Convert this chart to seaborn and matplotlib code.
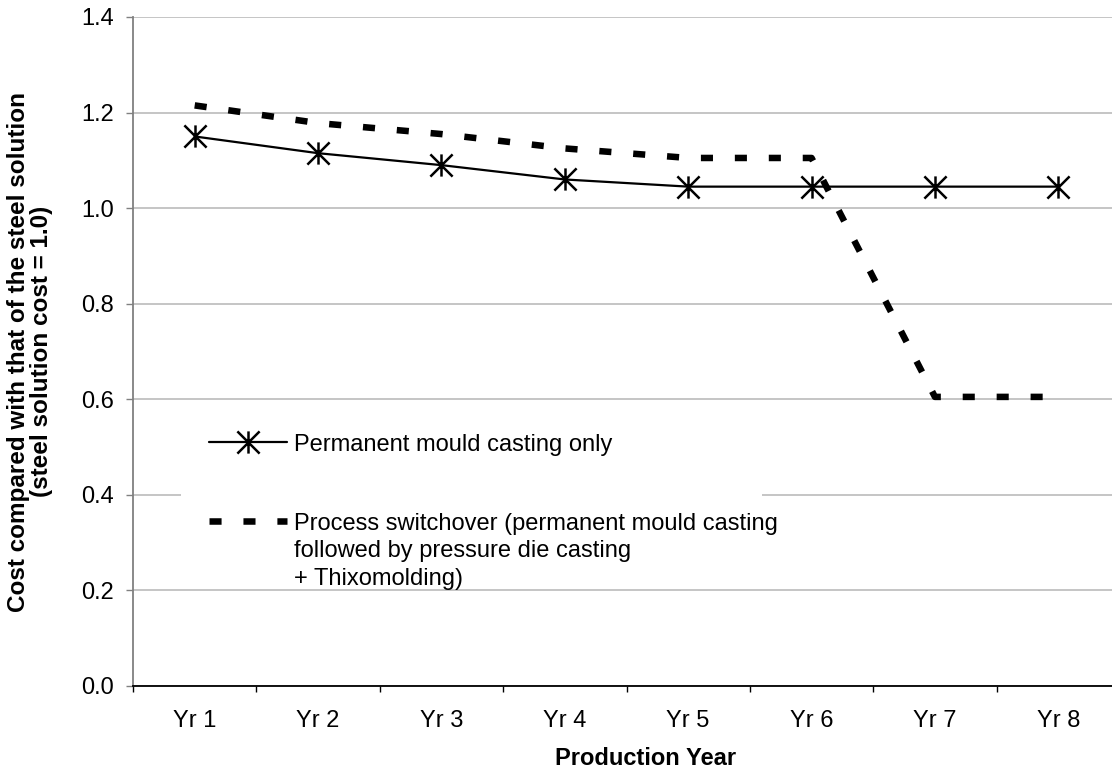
import matplotlib
matplotlib.use("Agg")
import matplotlib.pyplot as plt
from matplotlib.path import Path
from matplotlib.patches import Rectangle
import matplotlib.transforms as mtransforms
import pandas as pd
import seaborn as sns

# ---- data -------------------------------------------------------------
years = ["Yr 1", "Yr 2", "Yr 3", "Yr 4", "Yr 5", "Yr 6", "Yr 7", "Yr 8"]
permanent_mould = [1.15, 1.115, 1.09, 1.06, 1.045, 1.045, 1.045, 1.045]
switchover = [1.215, 1.178, 1.155, 1.125, 1.105, 1.105, 0.605, 0.605]
label_permanent = "Permanent mould casting only"
label_switch = ("Process switchover (permanent mould casting\n"
                "followed by pressure die casting\n"
                "+ Thixomolding)")
y_ticks = [0.0, 0.2, 0.4, 0.6, 0.8, 1.0, 1.2, 1.4]

df = pd.DataFrame({"year": years,
                   "permanent": permanent_mould,
                   "switch": switchover})

# ---- style ------------------------------------------------------------
sns.set_theme(style="white")
plt.rcParams["font.family"] = ["Liberation Sans", "DejaVu Sans"]
plt.rcParams["font.size"] = 17
plt.rcParams["text.color"] = "black"
plt.rcParams["axes.labelcolor"] = "black"

W, H = 1112, 776
fig = plt.figure(figsize=(W / 100, H / 100), dpi=100)
fig.patch.set_facecolor("white")

# plot area in pixels: left 133, right 1120 (runs past the canvas), top 17, bottom 686
left, right, top, bottom = 133, 1120, 17, 686
ax = fig.add_axes([left / W, (H - bottom) / H, (right - left) / W, (bottom - top) / H])
ax.set_facecolor("white")

# asterisk marker: vertical bar plus an X
star = Path([(0, -1), (0, 1), (-1, -1), (1, 1), (-1, 1), (1, -1)],
            [Path.MOVETO, Path.LINETO, Path.MOVETO, Path.LINETO,
             Path.MOVETO, Path.LINETO])

sns.lineplot(data=df, x="year", y="permanent", ax=ax, color="black",
             linewidth=1.6, marker=star, markersize=16,
             markeredgewidth=1.8, markeredgecolor="black",
             markerfacecolor="none", label=label_permanent, zorder=4)
sns.lineplot(data=df, x="year", y="switch", ax=ax, color="black",
             linewidth=4.7, linestyle=(0, (1.85, 3.35)),
             dash_capstyle="butt", label=label_switch, zorder=3)

# ---- axes ---------------------------------------------------------------
ax.set_xlim(-0.5, len(years) - 0.5)
ax.set_ylim(0, 1.4)
ax.set_yticks(y_ticks)
ax.set_yticklabels([f"{v:.1f}" for v in y_ticks])
ax.set_xticks(range(len(years)))
ax.set_xticklabels(years)
ax.set_xticks([i - 0.5 for i in range(len(years) + 1)], minor=True)

ax.yaxis.grid(True, color="#c0c0c0", linewidth=1.3)
ax.xaxis.grid(False)
ax.set_axisbelow(True)

for side in ("top", "right"):
    ax.spines[side].set_visible(False)
ax.spines["left"].set_color("#808080")
ax.spines["left"].set_linewidth(1.3)
ax.spines["bottom"].set_color("black")
ax.spines["bottom"].set_linewidth(1.3)

ax.tick_params(axis="y", which="major", left=True, length=5, width=1.0,
               color="#808080", pad=9, labelsize=17, labelcolor="black")
ax.tick_params(axis="x", which="major", bottom=True, length=0, pad=17,
               labelsize=17, labelcolor="black")
ax.tick_params(axis="x", which="minor", bottom=True, length=4.5, width=1.0,
               color="black")

ax.set_xlabel("Production Year", fontsize=17, fontweight="bold")
ax.xaxis.label.set_va("center")
ax.xaxis.set_label_coords(0.519, -0.108)
ax.set_ylabel("Cost compared with that of the steel solution\n"
              "(steel solution cost = 1.0)",
              fontsize=17.5, fontweight="bold", linespacing=1.0)
ax.yaxis.label.set_va("center")
ax.yaxis.set_label_coords(-0.104, 0.5)

# ---- legend -------------------------------------------------------------
# white panel behind the legend, hiding the gridline it sits on
blend = mtransforms.blended_transform_factory(ax.transAxes, ax.transData)
ax.add_patch(Rectangle((0.0486, 0.205), 0.5885, 0.385, transform=blend,
                       facecolor="white", edgecolor="none", zorder=1))

leg = ax.legend(loc="upper left",
                bbox_to_anchor=((209 - left) / (right - left),
                                (bottom - 434) / (bottom - top)),
                frameon=False, fontsize=17, handlelength=3.3,
                handletextpad=0.3, labelspacing=2.4, borderpad=0,
                borderaxespad=0)
for t in leg.get_texts():
    t.set_linespacing(1.33)
    t.set_color("black")
# keep each key level with the first line of its label
for column in leg._legend_handle_box.get_children():
    for row in column.get_children():
        row.align = "top"

fig.savefig("out.png", dpi=100, facecolor="white")
